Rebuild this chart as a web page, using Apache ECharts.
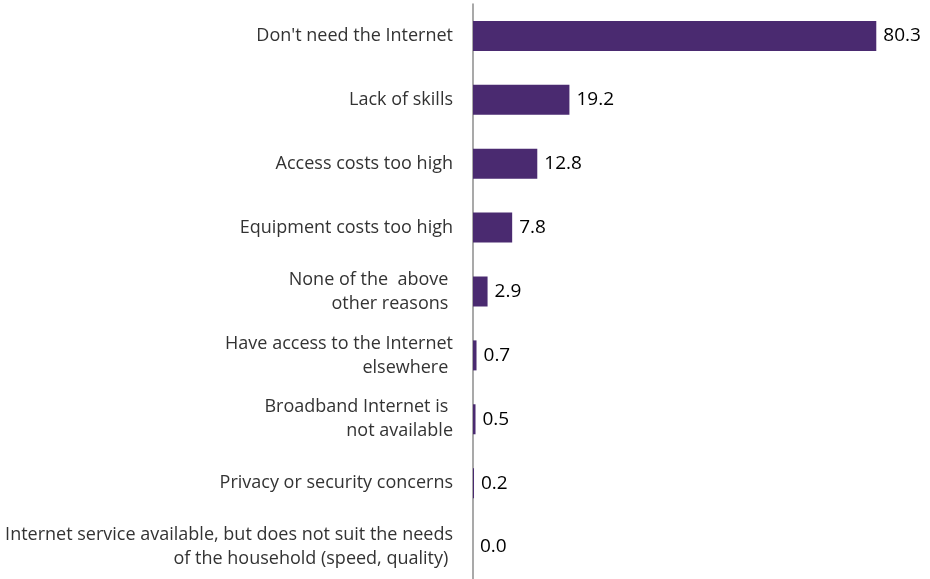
<!DOCTYPE html>
<html>
<head>
<meta charset="utf-8">
<script src="https://cdn.jsdelivr.net/npm/echarts@6/dist/echarts.min.js"></script>
<style>
  html, body { margin: 0; padding: 0; background: #fff; }
  #chart { width: 930px; height: 579px; }
</style>
</head>
<body>
<div id="chart"></div>
<script>
const categories = [
  "Don't need the Internet",
  'Lack of skills',
  'Access costs too high',
  'Equipment costs too high',
  'None of the  above \nother reasons ',
  'Have access to the Internet\nelsewhere ',
  'Broadband Internet is \nnot available',
  'Privacy or security concerns',
  'Internet service available, but does not suit the needs\nof the household (speed, quality) '
]
const values = [80.3, 19.2, 12.8, 7.8, 2.9, 0.7, 0.5, 0.2, 0.0]

const chart = echarts.init(document.getElementById('chart'))

chart.setOption({
  animation: false,
  grid: { left: 473, right: 5, top: 4, bottom: 0, containLabel: false },
  xAxis: {
    type: 'value',
    min: 0,
    max: 90,
    show: false
  },
  yAxis: {
    type: 'category',
    inverse: true,
    data: categories,
    axisLine: { show: true, lineStyle: { color: '#8c8c8c', width: 1.5 } },
    axisTick: { show: false },
    axisLabel: {
      margin: 20,
      color: '#333333',
      fontFamily: 'Open Sans',
      fontSize: 18,
      lineHeight: 24,
      align: 'right',
      padding: [4, 0, 0, 0]
    }
  },
  series: [
    {
      type: 'bar',
      data: values,
      barWidth: 30,
      itemStyle: { color: '#4a2a70' },
      label: {
        show: true,
        position: 'right',
        distance: 7,
        color: '#000',
        fontFamily: 'Open Sans',
        fontSize: 19,
        padding: [4, 0, 0, 0],
        formatter: (p) => p.value.toFixed(1)
      }
    }
  ]
})
</script>
</body>
</html>
